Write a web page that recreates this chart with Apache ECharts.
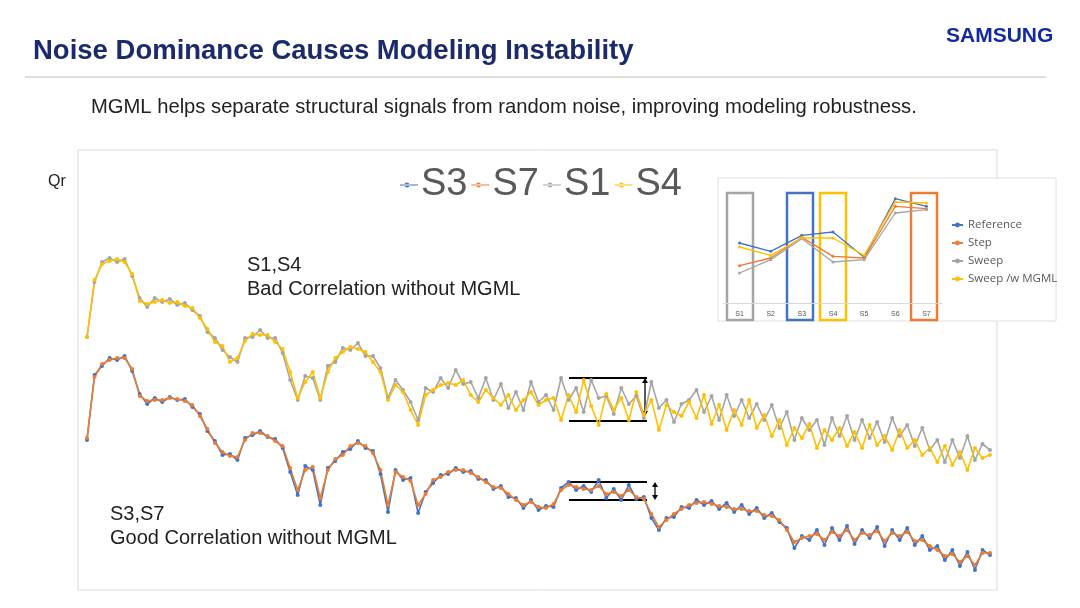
<!DOCTYPE html>
<html><head><meta charset="utf-8">
<script src="https://cdn.jsdelivr.net/npm/echarts@6/dist/echarts.min.js"></script>
<style>html,body{margin:0;padding:0;background:#fff}#c{width:1080px;height:608px}</style>
</head><body><div id="c"></div>
<script>
// Main chart (Qr profiles, arbitrary units, axis inverted)
const s3 = [440,375,366,358,360,356,371,394,404,398,402,397,400,399,407,414,431,441,455,454,460,438,435,431,437,439,448,472,495,466,470,505,468,461,452,449,441,448,451,474,512,470,480,478,513,492,483,475,474,468,472,471,479,480,489,486,497,498,508,500,510,506,507,488,482,490,486,492,480,498,489,500,485,499,497,518,530,518,517,507,508,500,505,501,509,503,512,505,514,508,518,513,522,528,548,536,540,530,545,528,540,526,544,530,538,527,546,530,540,528,545,536,550,546,560,550,566,552,570,550,555];
const s7 = [438,377,364,360,358,358,369,396,401,400,400,398,399,401,405,416,429,443,452,456,457,440,433,433,436,441,446,468,490,470,467,498,470,459,455,446,443,446,453,470,505,472,477,481,505,494,480,477,472,470,470,473,477,482,487,488,494,500,505,502,507,508,504,490,485,487,489,490,486,494,492,496,490,497,499,514,527,520,514,509,505,503,502,504,506,507,509,509,511,511,515,516,520,530,542,538,536,534,540,532,536,530,540,533,535,531,541,533,536,532,541,540,546,550,556,554,562,556,565,553,553];
const s1 = [337,282,262,258,262,259,276,298,307,298,302,299,305,303,310,316,332,338,350,357,362,338,337,330,338,338,353,380,400,376,378,400,366,362,348,350,343,356,356,368,398,380,390,402,420,388,392,378,388,370,384,382,398,378,400,384,408,392,410,382,402,395,410,378,400,388,412,380,398,396,414,388,404,396,418,382,408,400,422,404,400,390,412,396,420,395,416,400,418,404,420,405,428,412,440,418,430,420,445,418,436,416,440,420,438,422,442,418,436,425,446,428,450,440,462,440,458,436,460,444,450];
const s4 = [337,280,264,261,259,262,274,301,304,302,300,303,302,306,308,318,329,342,346,362,358,341,334,335,335,342,349,372,398,382,372,398,372,358,352,347,349,352,362,372,400,385,392,410,425,395,390,385,383,385,380,395,402,390,398,405,395,410,400,392,405,400,398,420,395,412,380,406,425,394,410,398,420,392,415,400,430,405,412,416,402,418,395,424,405,430,410,425,400,428,415,436,420,445,428,438,424,448,430,440,428,446,432,448,425,445,436,450,430,448,440,455,448,462,446,465,452,470,448,458,455];
// Inset chart
const insetCats = ['S1','S2','S3','S4','S5','S6','S7'];
const insetRef = [195,220,172,162,238,62,85];
const insetStep = [263,240,178,235,240,85,92];
const insetSweep = [285,245,182,252,245,105,95];
const insetMGML = [207,232,180,180,232,72,75];

const C = {blue:'#4472C4', orange:'#ED7D31', gray:'#A5A5A5', yellow:'#FFC000'};
const idx = s3.map((_, i) => i);
const ch = echarts.init(document.getElementById('c'));
const mainSeries = (name, data, color) => ({
  name, type:'line', xAxisIndex:0, yAxisIndex:0, data, color,
  symbol:'circle', symbolSize:4, lineStyle:{width:1.6, color}, itemStyle:{color}, animation:false
});
const insetSeries = (name, data, color) => ({
  name, type:'line', xAxisIndex:1, yAxisIndex:1, data, color,
  symbol:'circle', symbolSize:3, lineStyle:{width:1.3, color}, itemStyle:{color}, animation:false
});
const txt = (x, y, text, style) => ({type:'text', left:x, top:y, style:Object.assign({text, fill:'#222', font:'20px Arial, "Liberation Sans"'}, style)});
const line = (x1, y1, x2, y2, w) => ({type:'line', shape:{x1,y1,x2,y2}, style:{stroke:'#000', lineWidth:w||2}});
const box = (x, color) => ({type:'rect', shape:{x, y:193, width:26, height:127}, style:{fill:'none', stroke:color, lineWidth:2.5}});
const arrow = (x, y1, y2) => [
  line(x, y1+3, x, y2-3, 1.3),
  {type:'polygon', shape:{points:[[x-3,y1+5],[x+3,y1+5],[x,y1]]}, style:{fill:'#000'}},
  {type:'polygon', shape:{points:[[x-3,y2-5],[x+3,y2-5],[x,y2]]}, style:{fill:'#000'}}
];

ch.setOption({
  animation:false,
  grid:[
    {left:87, right:90, top:150, bottom:18},
    {left:724, right:138, top:193, bottom:305}
  ],
  xAxis:[
    {type:'category', gridIndex:0, data:idx, boundaryGap:false, show:false},
    {type:'category', gridIndex:1, data:insetCats, boundaryGap:true,
     axisLine:{lineStyle:{color:'#d9d9d9'}}, axisTick:{show:false},
     axisLabel:{fontSize:7, color:'#555', margin:8}}
  ],
  yAxis:[
    {type:'value', gridIndex:0, inverse:true, min:150, max:590, show:false},
    {type:'value', gridIndex:1, inverse:true, min:45, max:375, show:false}
  ],
  legend:[
    {data:['S3','S7','S1','S4'], left:395, top:161, itemWidth:18, itemHeight:10, itemGap:4,
     icon:'path://M0,4.5L18,4.5L18,5.5L0,5.5Z M7,2.5 a2.5,2.5 0 1,0 0.01,0',
     textStyle:{fontSize:38, color:'#595959', fontFamily:'Arial, "Liberation Sans"', padding:[0,0,0,-2]}},
    {data:['Reference','Step','Sweep','Sweep /w MGML'], orient:'vertical', left:946, top:214, itemWidth:11, itemHeight:6, itemGap:6,
     textStyle:{fontSize:11.5, color:'#595959', fontFamily:'"Open Sans", Arial'}}
  ],
  series:[
    mainSeries('S3', s3, C.blue),
    mainSeries('S7', s7, C.orange),
    mainSeries('S1', s1, C.gray),
    mainSeries('S4', s4, C.yellow),
    insetSeries('Reference', insetRef, C.blue),
    insetSeries('Step', insetStep, C.orange),
    insetSeries('Sweep', insetSweep, C.gray),
    insetSeries('Sweep /w MGML', insetMGML, C.yellow)
  ],
  graphic:[
    {type:'rect', z:-10, shape:{x:78, y:150, width:919, height:440}, style:{fill:'#fff', stroke:'#d9d9d9', lineWidth:1}},
    {type:'rect', z:-5, shape:{x:718, y:178, width:338, height:143}, style:{fill:'#fff', stroke:'#e0e0e0', lineWidth:1}},
    txt(33, 37, 'Noise Dominance Causes Modeling Instability', {fill:'#1b2a6b', font:'bold 27.5px Arial, "Liberation Sans"'}),
    txt(946, 26, 'SAMSUNG', {fill:'#1428A0', font:'bold 21px Arial, "Liberation Sans"', letterSpacing:1}),
    {type:'line', shape:{x1:25, y1:77, x2:1046, y2:77}, style:{stroke:'#bfbfbf', lineWidth:1.2}},
    txt(91, 97, 'MGML helps separate structural signals from random noise, improving modeling robustness.', {font:'20.2px Arial, "Liberation Sans"'}),
    txt(48, 174, 'Qr', {font:'16px Arial, "Liberation Sans"'}),
    txt(247, 255, 'S1,S4', {}),
    txt(247, 279, 'Bad Correlation without MGML', {}),
    txt(110, 504, 'S3,S7', {}),
    txt(110, 528, 'Good Correlation without MGML', {}),
    line(569, 378, 647, 378), line(569, 421, 647, 421),
    ...arrow(645, 378, 416),
    line(569, 482, 647, 482), line(569, 500, 647, 500),
    ...arrow(655, 482, 500),
    box(727, '#A5A5A5'), box(787, '#4472C4'), box(820, '#FFC000'), box(911, '#ED7D31')
  ]
});
</script></body></html>
